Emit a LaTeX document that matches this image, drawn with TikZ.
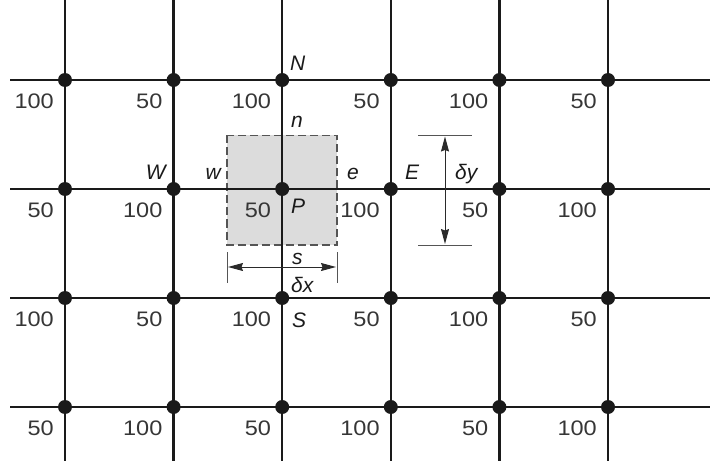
\documentclass[tikz,border=0pt]{standalone}
\usepackage{fontspec}
\setmainfont{Liberation Sans}
\newfontfamily\numfont[FakeStretch=1.12]{Liberation Sans}
\usetikzlibrary{arrows.meta}
\definecolor{gridc}{HTML}{1A1A1A}
\definecolor{numc}{HTML}{363636}
\definecolor{cellfill}{HTML}{DCDCDC}
\definecolor{celledge}{HTML}{555555}
\definecolor{dimc}{HTML}{2A2A2A}
\definecolor{extc}{HTML}{555555}
\tikzset{
  gridline/.style={line width=2.4pt, draw=gridc},
  griddot/.style={circle, fill=gridc, inner sep=0pt, minimum size=14pt},
  num/.style={inner sep=0pt, text=numc, font=\numfont\fontsize{21}{24}\selectfont},
  lett/.style={inner sep=0pt, text=gridc, font=\fontsize{21}{24}\selectfont\itshape},
  cellbox/.style={fill=cellfill, draw=celledge, line width=1.3pt, dash pattern=on 8pt off 4pt},
  dimline/.style={line width=1pt, draw=dimc, {Stealth[length=15pt,width=8pt,inset=1.5pt]}-{Stealth[length=15pt,width=8pt,inset=1.5pt]}},
  extline/.style={line width=1pt, draw=extc}
}
\begin{document}
\begin{tikzpicture}[x=1pt,y=-1pt]
\useasboundingbox (0,0) rectangle (710,468);
% grid coordinates
\foreach \i in {0,...,5}{
  \foreach \j in {0,...,3}{
    \pgfmathsetmacro{\xx}{65+108.6*\i}
    \pgfmathsetmacro{\yy}{80+109*\j}
    \coordinate (g\i\j) at (\xx,\yy);
  }
}
\coordinate (topc) at (0,0);
\coordinate (botc) at (0,461);
\coordinate (lftc) at (10,0);
\coordinate (rgtc) at (710,0);
% control volume
\coordinate (cvnw) at (227,135.5);
\coordinate (cvse) at (337,245);
\path[cellbox] (cvnw) rectangle (cvse);
% grid lines
\foreach \i in {0,...,5}{
  \draw[gridline] (g\i0 |- topc) -- (g\i3 |- botc);
}
\foreach \j in {0,...,3}{
  \draw[gridline] (lftc |- g0\j) -- (rgtc |- g0\j);
}
% dots and value labels
\foreach \i in {0,...,5}{
  \foreach \j in {0,...,3}{
    \node[griddot] (d\i\j) at (g\i\j) {};
    \pgfmathtruncatemacro{\p}{mod(\i+\j,2)}
    \ifnum\p=0
      \node[num, anchor=base east, xshift=-11pt, yshift=-28.5pt] (v\i\j) at (g\i\j) {100};
    \else
      \node[num, anchor=base east, xshift=-11pt, yshift=-28.5pt] (v\i\j) at (g\i\j) {50};
    \fi
  }
}
% letter labels
\node[lett, anchor=base west] (labN) at (290,71) {N};
\node[lett, anchor=base west] (labn) at (291,128) {n};
\node[lett, anchor=base east] (labW) at (166,179) {W};
\node[lett, anchor=base east] (labw) at (221,179) {w};
\node[lett, anchor=base west] (labe) at (347,180) {e};
\node[lett, anchor=base west] (labE) at (405,180) {E};
\node[lett, anchor=base west] (labdy) at (455,180) {δy};
\node[lett, anchor=base west] (labP) at (291,213) {P};
\node[lett, anchor=base west] (labs) at (292,264) {s};
\node[lett, anchor=base west] (labdx) at (291,292) {δx};
\node[lett, anchor=base west] (labS) at (292,327) {S};
% delta x dimension
\coordinate (dxa1) at (227,252);
\coordinate (dxa2) at (227,283);
\coordinate (dxb1) at (337,252);
\coordinate (dxb2) at (337,283);
\draw[extline] (dxa1) -- (dxa2);
\draw[extline] (dxb1) -- (dxb2);
\coordinate (dxl) at (228,267);
\coordinate (dxr) at (336,267);
\draw[dimline] (dxl) -- (dxr);
% delta y dimension
\coordinate (dya1) at (418,135.5);
\coordinate (dya2) at (472,135.5);
\coordinate (dyb1) at (418,245);
\coordinate (dyb2) at (472,245);
\draw[extline] (dya1) -- (dya2);
\draw[extline] (dyb1) -- (dyb2);
\coordinate (dyt) at (445,136.5);
\coordinate (dyb) at (445,244);
\draw[dimline] (dyt) -- (dyb);
\end{tikzpicture}
\end{document}
